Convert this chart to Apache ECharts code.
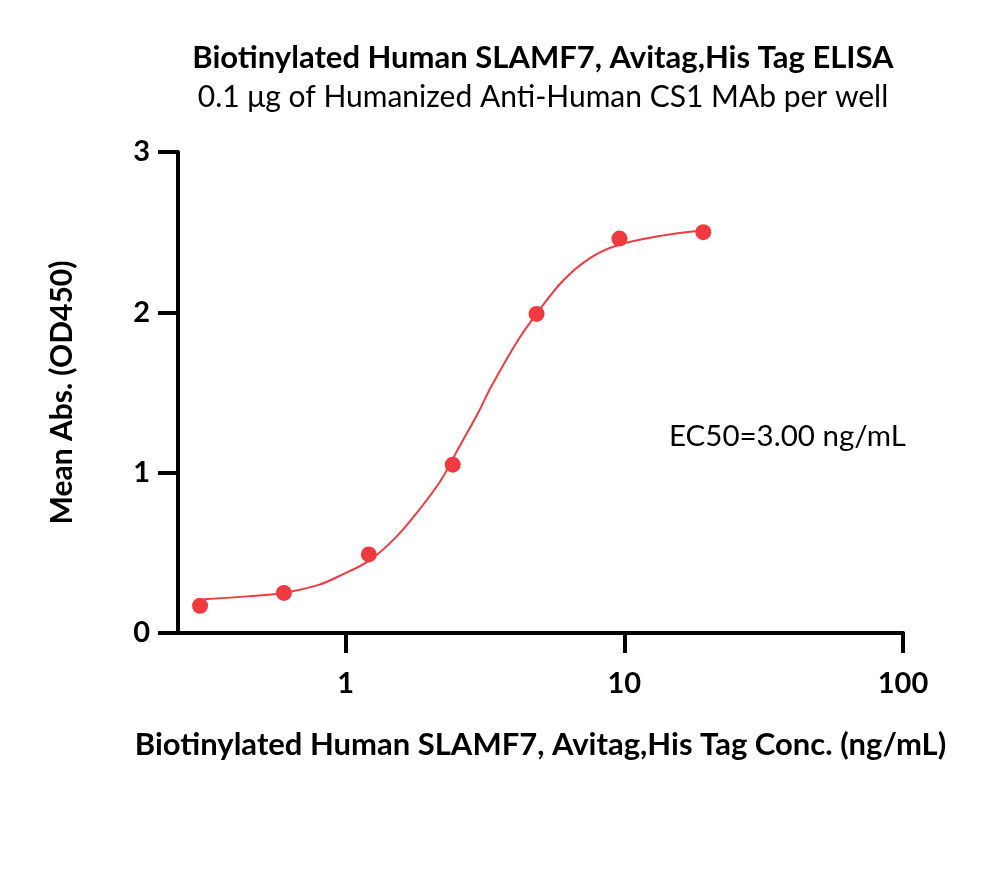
<!DOCTYPE html>
<html>
<head>
<meta charset="utf-8">
<script src="https://cdn.jsdelivr.net/npm/echarts@6/dist/echarts.min.js"></script>
<style>
html,body{margin:0;padding:0;background:#fff;}
#chart{width:1000px;height:880px;}
</style>
</head>
<body>
<div id="chart"></div>
<script>
// Measured points (concentration ng/mL, mean OD450)
const concentrations = [0.30, 0.60, 1.21, 2.42, 4.84, 9.6, 19.2];
const absorbance = [0.17, 0.25, 0.49, 1.05, 1.99, 2.46, 2.50];
// Fitted curve
const curveX = [0.31, 0.45, 0.60, 0.80, 0.96, 1.21, 1.5, 1.8, 2.19, 2.48, 3.0, 3.31, 4.13, 4.88, 6.04, 7.55, 9.52, 13.8, 19.0];
const curveY = [0.21, 0.23, 0.25, 0.30, 0.36, 0.45, 0.59, 0.75, 0.95, 1.12, 1.38, 1.53, 1.82, 2.00, 2.20, 2.34, 2.42, 2.48, 2.51];
const yTicks = [0, 1, 2, 3];
const xTickLabels = ['1', '10', '100'];

const titleText = 'Biotinylated Human SLAMF7, Avitag,His Tag ELISA';
const subtitleText = '0.1 μg of Humanized Anti-Human CS1 MAb per well';
const xName = 'Biotinylated Human SLAMF7, Avitag,His Tag Conc. (ng/mL)';
const yName = 'Mean Abs. (OD450)';
const ec50Text = 'EC50=3.00 ng/mL';

const red = '#EF3B3F';
const FONT = 'Lato';

const chart = echarts.init(document.getElementById('chart'), null, {renderer: 'canvas'});
chart.setOption({
  backgroundColor: '#fff',
  animation: false,
  title: [{
    text: titleText,
    subtext: subtitleText,
    left: 538, top: 37, textAlign: 'center',
    itemGap: 9,
    textStyle: {fontFamily: FONT, fontSize: 31, fontWeight: 'bold', color: '#000'},
    subtextStyle: {fontFamily: FONT, fontSize: 30, fontWeight: 'normal', color: '#000'}
  }],
  grid: {left: 178, right: 97, top: 152, bottom: 247, containLabel: false},
  xAxis: {
    type: 'log', logBase: 10, min: 0.25, max: 100,
    name: xName, nameLocation: 'middle', nameGap: 96,
    nameTextStyle: {fontFamily: FONT, fontSize: 31, fontWeight: 'bold', color: '#000'},
    axisLine: {show: true, onZero: false, lineStyle: {color: '#000', width: 4}},
    axisTick: {show: true, length: 20, lineStyle: {color: '#000', width: 4}},
    axisLabel: {
      margin: 36, showMinLabel: false, fontFamily: FONT, fontSize: 29, fontWeight: 'bold', color: '#000',
      formatter: v => { const s = String(Math.round(v)); return xTickLabels.includes(s) && Math.abs(v - Math.round(v)) < 1e-6 ? s : ''; }
    },
    splitLine: {show: false}, minorTick: {show: false}
  },
  yAxis: {
    type: 'value', min: yTicks[0], max: yTicks[yTicks.length - 1], interval: 1,
    name: yName, nameLocation: 'middle', nameGap: 101,
    nameTextStyle: {fontFamily: FONT, fontSize: 30, fontWeight: 'bold', color: '#000'},
    axisLine: {show: true, lineStyle: {color: '#000', width: 4}},
    axisTick: {show: true, length: 20, lineStyle: {color: '#000', width: 4}},
    axisLabel: {margin: 28, fontFamily: FONT, fontSize: 29, fontWeight: 'bold', color: '#000'},
    splitLine: {show: false}
  },
  series: [{
    type: 'line',
    data: curveX.map((x, i) => [x, curveY[i]]),
    smooth: 0.35,
    showSymbol: false,
    lineStyle: {color: red, width: 2},
    z: 2
  }, {
    type: 'scatter',
    data: concentrations.map((x, i) => [x, absorbance[i]]),
    symbol: 'circle', symbolSize: 16,
    itemStyle: {color: red, opacity: 1},
    z: 3
  }],
  graphic: [{
    type: 'text', left: 669, top: 421,
    style: {text: ec50Text, fontFamily: FONT, fontSize: 29.5, fill: '#000'}
  }]
});
</script>
</body>
</html>
